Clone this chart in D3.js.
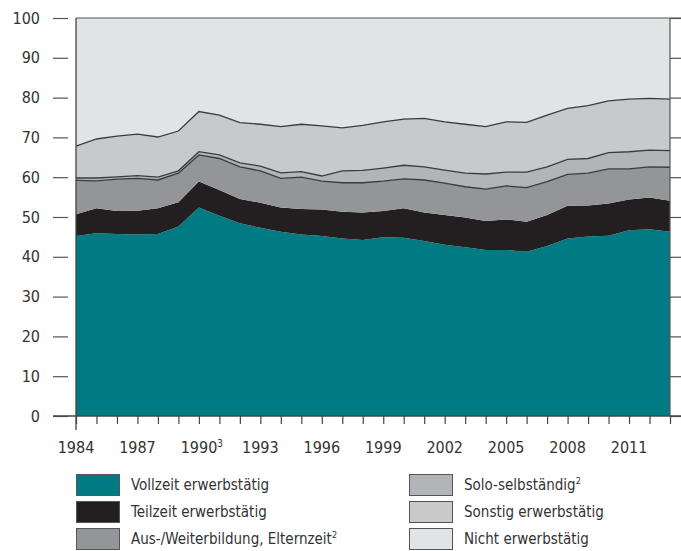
<!DOCTYPE html>
<html>
<head>
<meta charset="utf-8">
<script src="https://cdn.jsdelivr.net/npm/d3@7"></script>
<style>
  body { margin: 0; background: #fff; }
  text { font-family: "Liberation Sans Narrow", "DejaVu Sans Condensed", sans-serif; fill: #333; }
</style>
</head>
<body>
<div id="chart"></div>
<script>
// data (percent shares per year)
var years = d3.range(1984, 2014);
var vollzeit = [45.2, 45.9, 45.7, 45.6, 45.7, 47.6, 52.4, 50.3, 48.4, 47.3, 46.3, 45.6, 45.2, 44.6, 44.2,
                44.9, 44.8, 44.0, 43.0, 42.4, 41.7, 41.7, 41.3, 42.7, 44.6, 45.1, 45.3, 46.7, 46.9, 46.3];
var teilzeit = [5.5, 6.3, 5.8, 6.0, 6.5, 6.1, 6.5, 6.5, 6.1, 6.3, 6.1, 6.4, 6.7, 6.7, 6.9,
                6.6, 7.4, 7.1, 7.5, 7.5, 7.3, 7.7, 7.5, 7.8, 8.2, 7.8, 8.1, 7.7, 8.0, 7.8];
var ausbildung = [8.5, 6.9, 8.0, 8.1, 7.1, 7.3, 6.7, 7.9, 8.1, 8.0, 7.3, 8.0, 7.1, 7.3, 7.5,
                  7.5, 7.4, 8.2, 8.0, 7.7, 8.0, 8.4, 8.6, 8.4, 7.9, 8.1, 8.7, 7.7, 7.7, 8.4];
var solo = [0.6, 0.7, 0.6, 0.7, 0.7, 0.6, 0.8, 0.9, 1.0, 1.2, 1.4, 1.4, 1.3, 3.0, 3.1,
            3.3, 3.4, 3.3, 3.3, 3.4, 3.8, 3.5, 3.9, 3.7, 3.8, 3.7, 4.1, 4.3, 4.2, 4.2];
var sonstig = [8.0, 9.8, 10.2, 10.4, 10.1, 10.0, 10.1, 10.0, 10.1, 10.5, 11.6, 11.9, 12.6, 10.8, 11.3,
               11.6, 11.6, 12.2, 12.1, 12.3, 11.9, 12.6, 12.5, 13.0, 12.8, 13.3, 13.0, 13.2, 13.0, 12.9];
var nicht = [32.2, 30.4, 29.7, 29.2, 29.9, 28.4, 23.5, 24.4, 26.3, 26.7, 27.3, 26.7, 27.1, 27.6, 27.0,
             26.1, 25.4, 25.2, 26.1, 26.7, 27.3, 26.1, 26.2, 24.4, 22.7, 22.0, 20.8, 20.4, 20.2, 20.4];

var keys = ['vollzeit', 'teilzeit', 'ausbildung', 'solo', 'sonstig', 'nicht'];
var labels = {
    vollzeit: ['Vollzeit erwerbstätig', ''],
    teilzeit: ['Teilzeit erwerbstätig', ''],
    ausbildung: ['Aus-/Weiterbildung, Elternzeit', '2'],
    solo: ['Solo-selbständig', '2'],
    sonstig: ['Sonstig erwerbstätig', ''],
    nicht: ['Nicht erwerbstätig', '']
};
var colors = {
    vollzeit: '#007b84',
    teilzeit: '#231f20',
    ausbildung: '#939598',
    solo: '#b3b4b7',
    sonstig: '#c8c9cb',
    nicht: '#e2e3e5'
};
var yTicks = [0, 10, 20, 30, 40, 50, 60, 70, 80, 90, 100];
var xLabelYears = [1984, 1987, 1990, 1993, 1996, 1999, 2002, 2005, 2008, 2011];

var width = 681, height = 551;
var plotLeft = 76, plotRight = 670, plotTop = 18, plotBottom = 416;

var svg = d3.select('#chart').append('svg')
    .attr('width', width)
    .attr('height', height);

var table = years.map(function (yr, i) {
    return {
        year: yr, vollzeit: vollzeit[i], teilzeit: teilzeit[i], ausbildung: ausbildung[i],
        solo: solo[i], sonstig: sonstig[i], nicht: nicht[i]
    };
});

var x = d3.scaleLinear().domain([1984, 2013]).range([plotLeft, plotRight]);
var y = d3.scaleLinear().domain([0, 100]).range([plotBottom, plotTop]);

var series = d3.stack().keys(keys)(table);

var area = d3.area()
    .x(function (d) { return x(d.data.year); })
    .y0(function (d) { return y(d[0]); })
    .y1(function (d) { return y(Math.min(d[1], 100)); });

svg.append('g').selectAll('path')
    .data(series)
    .enter()
    .append('path')
    .attr('d', area)
    .attr('fill', function (d) { return colors[d.key]; });

// thin dark outlines on top of the grey layers
var topLine = d3.line()
    .x(function (d) { return x(d.data.year); })
    .y(function (d) { return y(Math.min(d[1], 100)); });

svg.append('g').selectAll('path')
    .data(series.filter(function (s) { return s.key == 'ausbildung' || s.key == 'solo' || s.key == 'sonstig'; }))
    .enter()
    .append('path')
    .attr('d', topLine)
    .attr('fill', 'none')
    .attr('stroke', '#3b3b3d')
    .attr('stroke-width', 1.3);

// left ticks + labels
var yAxis = svg.append('g')
    .attr('transform', 'translate(68,0)')
    .call(d3.axisLeft(y).tickValues(yTicks).tickSize(15).tickPadding(13));
yAxis.select('.domain').remove();
yAxis.selectAll('line').attr('stroke', '#555').attr('stroke-width', 1.2);
yAxis.selectAll('text').style('font-size', '16px').attr('fill', '#333');

// right ticks
var yRight = svg.append('g')
    .attr('transform', 'translate(' + plotRight + ',0)')
    .call(d3.axisRight(y).tickValues(yTicks).tickSize(11).tickFormat(''));
yRight.select('.domain').remove();
yRight.selectAll('line').attr('stroke', '#555').attr('stroke-width', 1.2);

// bottom year ticks
var xAxis = svg.append('g')
    .attr('transform', 'translate(0,' + plotBottom + ')')
    .call(d3.axisBottom(x).tickValues(years).tickSize(8).tickFormat(''));
xAxis.select('.domain').remove();
xAxis.selectAll('line').attr('stroke', '#444').attr('stroke-width', 1.2);

// frame lines
svg.append('line').attr('x1', plotLeft).attr('x2', plotLeft).attr('y1', plotTop).attr('y2', plotBottom + 14)
    .attr('stroke', '#444').attr('stroke-width', 1.3);
svg.append('line').attr('x1', plotRight).attr('x2', plotRight).attr('y1', plotTop).attr('y2', plotBottom)
    .attr('stroke', '#555').attr('stroke-width', 1.2);
svg.append('line').attr('x1', 53).attr('x2', width).attr('y1', plotBottom).attr('y2', plotBottom)
    .attr('stroke', '#444').attr('stroke-width', 1.3);
svg.append('line').attr('x1', plotLeft).attr('x2', width).attr('y1', plotTop).attr('y2', plotTop)
    .attr('stroke', '#555').attr('stroke-width', 1.2);

// year labels
var yl = svg.append('g').selectAll('text')
    .data(xLabelYears)
    .enter()
    .append('text')
    .attr('x', function (d) { return x(d); })
    .attr('y', 453)
    .attr('text-anchor', 'middle')
    .style('font-size', '16px');
yl.append('tspan').text(function (d) { return d; });
yl.filter(function (d) { return d == 1990; })
    .append('tspan')
    .attr('dy', -6)
    .style('font-size', '10px')
    .text('3');
yl.filter(function (d) { return d == 1990; }).attr('dx', 3);

// legend
var legendCols = [['vollzeit', 'teilzeit', 'ausbildung'], ['solo', 'sonstig', 'nicht']];
var colX = [76, 409];
legendCols.forEach(function (col, ci) {
    col.forEach(function (key, ri) {
        var yy = 474 + ri * 27;
        svg.append('rect')
            .attr('x', colX[ci] + 0.5)
            .attr('y', yy + 0.5)
            .attr('width', 43)
            .attr('height', 21)
            .attr('fill', colors[key])
            .attr('stroke', '#555')
            .attr('stroke-width', 1);
        var t = svg.append('text')
            .attr('x', colX[ci] + 55)
            .attr('y', yy + 16)
            .style('font-size', '15px');
        t.append('tspan').text(labels[key][0]);
        if (labels[key][1]) {
            t.append('tspan').attr('dy', -6).style('font-size', '9px').text(labels[key][1]);
        }
    });
});
</script>
</body>
</html>
